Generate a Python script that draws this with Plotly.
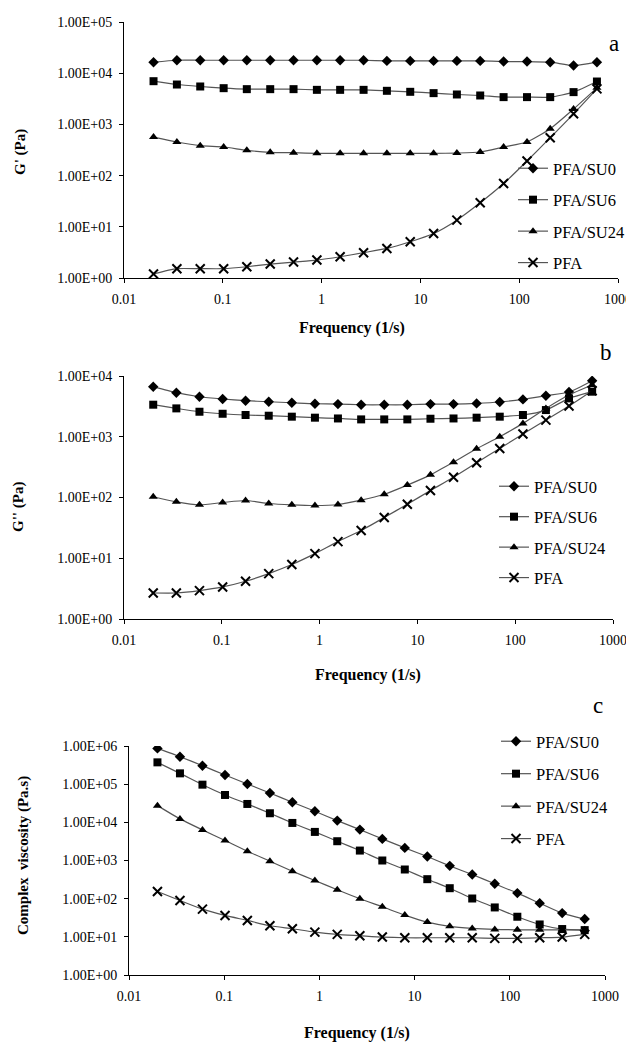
import plotly.graph_objects as go

# ---------------- data ----------------
freq = [0.0199, 0.0343, 0.0591, 0.102, 0.175, 0.302, 0.520, 0.896, 1.54, 2.66,
        4.58, 7.89, 13.6, 23.4, 40.3, 69.5, 120, 206, 355, 612]

series_names = ["PFA/SU0", "PFA/SU6", "PFA/SU24", "PFA"]

# Panel a: storage modulus G' (Pa)
gp_su0 = [16400, 17900, 17900, 17900, 17900, 17900, 17900, 17900, 17900, 17900,
          17400, 17400, 17400, 17400, 17400, 16900, 16900, 16400, 14100, 16400]
gp_su6 = [6980, 6010, 5500, 5100, 4880, 4880, 4880, 4730, 4730, 4730,
          4530, 4330, 4080, 3840, 3670, 3410, 3410, 3410, 4270, 6880]
gp_su24 = [566, 453, 384, 362, 312, 285, 280, 272, 272, 272,
           272, 272, 272, 276, 289, 362, 453, 824, 2000, 5180]
gp_pfa = [1.2, 1.52, 1.52, 1.52, 1.66, 1.87, 2.05, 2.24, 2.6, 3.12,
          3.78, 5.1, 7.4, 13.5, 29.4, 69.9, 193, 550, 1610, 4950]

# Panel b: loss modulus G'' (Pa)
gpp_su0 = [6670, 5310, 4560, 4180, 3920, 3770, 3630, 3490, 3450, 3360,
           3360, 3360, 3450, 3450, 3540, 3730, 4120, 4740, 5450, 8370]
gpp_su6 = [3370, 2930, 2580, 2390, 2280, 2220, 2140, 2060, 2000, 1930,
           1930, 1930, 1980, 2000, 2060, 2140, 2280, 2750, 4280, 5520]
gpp_su24 = [103, 84.9, 75.7, 82.7, 89.3, 79.7, 75.7, 73.8, 76.7, 90.4,
            113, 160, 236, 382, 634, 1000, 1660, 2930, 4860, 7110]
gpp_pfa = [2.68, 2.68, 2.93, 3.37, 4.18, 5.59, 7.87, 11.9, 18.8, 28.6,
           46.8, 77.6, 130, 216, 373, 642, 1107, 1880, 3200, 5730]

# Panel c: complex viscosity (Pa.s)
eta_su0 = [865000, 524000, 305000, 174000, 101000, 58700, 33500, 19500, 11100, 6460,
           3680, 2140, 1270, 724, 429, 245, 140, 76.4, 41.9, 29.2]
eta_su6 = [373000, 192000, 97000, 52100, 30300, 17300, 9640, 5610, 3200, 1820,
           1000, 581, 324, 188, 101, 58.9, 33.6, 21.1, 16.0, 15.0]
eta_su24 = [27400, 12300, 6330, 3330, 1750, 959, 525, 299, 171, 99.3,
            61.2, 37.1, 24.3, 18.8, 16.6, 15.6, 15.3, 15.3, 15.3, 15.3]
eta_pfa = [154, 89.7, 53.2, 36.4, 26.9, 19.5, 16.3, 13.3, 11.6, 10.7,
           9.86, 9.46, 9.46, 9.46, 9.46, 9.1, 9.1, 9.46, 9.86, 11.6]

x_tickvals = [0.01, 0.1, 1, 10, 100, 1000]
x_ticktext = ["0.01", "0.1", "1", "10", "100", "1000"]
y_tickvals_ab = [1, 10, 100, 1000, 10000, 100000]
y_ticktext_ab = ["1.00E+00", "1.00E+01", "1.00E+02", "1.00E+03", "1.00E+04", "1.00E+05"]
y_tickvals_c = [1, 10, 100, 1000, 10000, 100000, 1000000]
y_ticktext_c = ["1.00E+00", "1.00E+01", "1.00E+02", "1.00E+03", "1.00E+04", "1.00E+05", "1.00E+06"]

# ---------------- layout helpers ----------------
# page body has an 8 px margin, so the figure is made 8 px smaller and
# all reference pixel positions are shifted by that offset
OFF = 8
W, H = 634 - OFF, 1042 - OFF
FONT = "Liberation Serif"
symbols = ["diamond", "square", "triangle-up", "x-thin"]
msizes = [8, 8, 8, 9]
LINE_COLOR = "#555555"


def px_x(p):
    return (p - OFF) / W


def px_y(p):
    return 1 - (p - OFF) / H


panels = [
    dict(data=[gp_su0, gp_su6, gp_su24, gp_pfa], x=(124, 618), y=(22, 278),
         yr=[0, 5], yt=(y_tickvals_ab, y_ticktext_ab), legend="legend"),
    dict(data=[gpp_su0, gpp_su6, gpp_su24, gpp_pfa], x=(124, 613), y=(376, 619),
         yr=[0, 4], yt=(y_tickvals_ab[:5], y_ticktext_ab[:5]), legend="legend2"),
    dict(data=[eta_su0, eta_su6, eta_su24, eta_pfa], x=(129, 605), y=(746, 975),
         yr=[0, 6], yt=(y_tickvals_c, y_ticktext_c), legend="legend3"),
]

fig = go.Figure()
layout = dict(
    width=W, height=H, margin=dict(l=0, r=0, t=0, b=0, autoexpand=False),
    paper_bgcolor="white", plot_bgcolor="white",
    font=dict(family=FONT, color="black", size=14),
    showlegend=True,
)

for i, p in enumerate(panels):
    ax = "" if i == 0 else str(i + 1)
    for j, (name, ys) in enumerate(zip(series_names, p["data"])):
        fig.add_trace(go.Scatter(
            x=freq, y=ys, name=name, mode="lines+markers",
            xaxis="x" + ax, yaxis="y" + ax,
            line=dict(color=LINE_COLOR, width=1.2, shape="spline", smoothing=0.6),
            marker=dict(symbol=symbols[j], size=msizes[j], color="black",
                        line=dict(color="black", width=2 if symbols[j] == "x-thin" else 0)),
            legend=p["legend"], legendgroup=f"{p['legend']}_{j}",
        ))
    axis_common = dict(
        type="log", showgrid=False, zeroline=False, showline=True, automargin=False,
        linecolor="black", linewidth=1, ticks="outside", ticklen=4,
        tickcolor="black", tickwidth=1, tickfont=dict(family=FONT, size=14, color="black"),
    )
    layout["xaxis" + ax] = dict(
        axis_common, domain=[px_x(p["x"][0]), px_x(p["x"][1])], range=[-2, 3],
        tickvals=x_tickvals, ticktext=x_ticktext, ticklabelstandoff=4,
        anchor="y" + ax,
    )
    layout["yaxis" + ax] = dict(
        axis_common, domain=[px_y(p["y"][1]), px_y(p["y"][0])], range=p["yr"],
        tickvals=p["yt"][0], ticktext=p["yt"][1], ticklabelstandoff=4, anchor="x" + ax,
    )

legend_common = dict(
    font=dict(family=FONT, size=16.5, color="black"), bgcolor="rgba(0,0,0,0)",
    traceorder="grouped", itemwidth=30,
    xanchor="left", yanchor="top",
)
layout["legend"] = dict(legend_common, x=px_x(513), y=px_y(151), tracegroupgap=7)
layout["legend2"] = dict(legend_common, x=px_x(494), y=px_y(469), tracegroupgap=6)
layout["legend3"] = dict(legend_common, x=px_x(496), y=px_y(724), tracegroupgap=8)

annotations = []
# x-axis titles
for (cx, cy) in [(352, 328), (368, 675), (357, 1033)]:
    annotations.append(dict(text="<b>Frequency (1/s)</b>", x=px_x(cx), y=px_y(cy),
                            xref="paper", yref="paper", showarrow=False,
                            font=dict(family=FONT, size=16), xanchor="center", yanchor="middle"))
# y-axis titles
for (txt, cx, cy) in [("<b>G' (Pa)</b>", 20, 152), ("<b>G'' (Pa)</b>", 19, 507),
                      ("<b>Complex  viscosity (Pa.s)</b>", 23, 856)]:
    annotations.append(dict(text=txt, x=px_x(cx), y=px_y(cy), xref="paper", yref="paper",
                            showarrow=False, textangle=-90,
                            font=dict(family=FONT, size=15), xanchor="center", yanchor="middle"))
# panel labels
for (txt, cx, cy) in [("a", 614, 43), ("b", 606, 352), ("c", 598, 705)]:
    annotations.append(dict(text=txt, x=px_x(cx), y=px_y(cy), xref="paper", yref="paper",
                            showarrow=False, font=dict(family=FONT, size=23),
                            xanchor="center", yanchor="middle"))
layout["annotations"] = annotations

fig.update_layout(**layout)
fig.write_html("out.html")
